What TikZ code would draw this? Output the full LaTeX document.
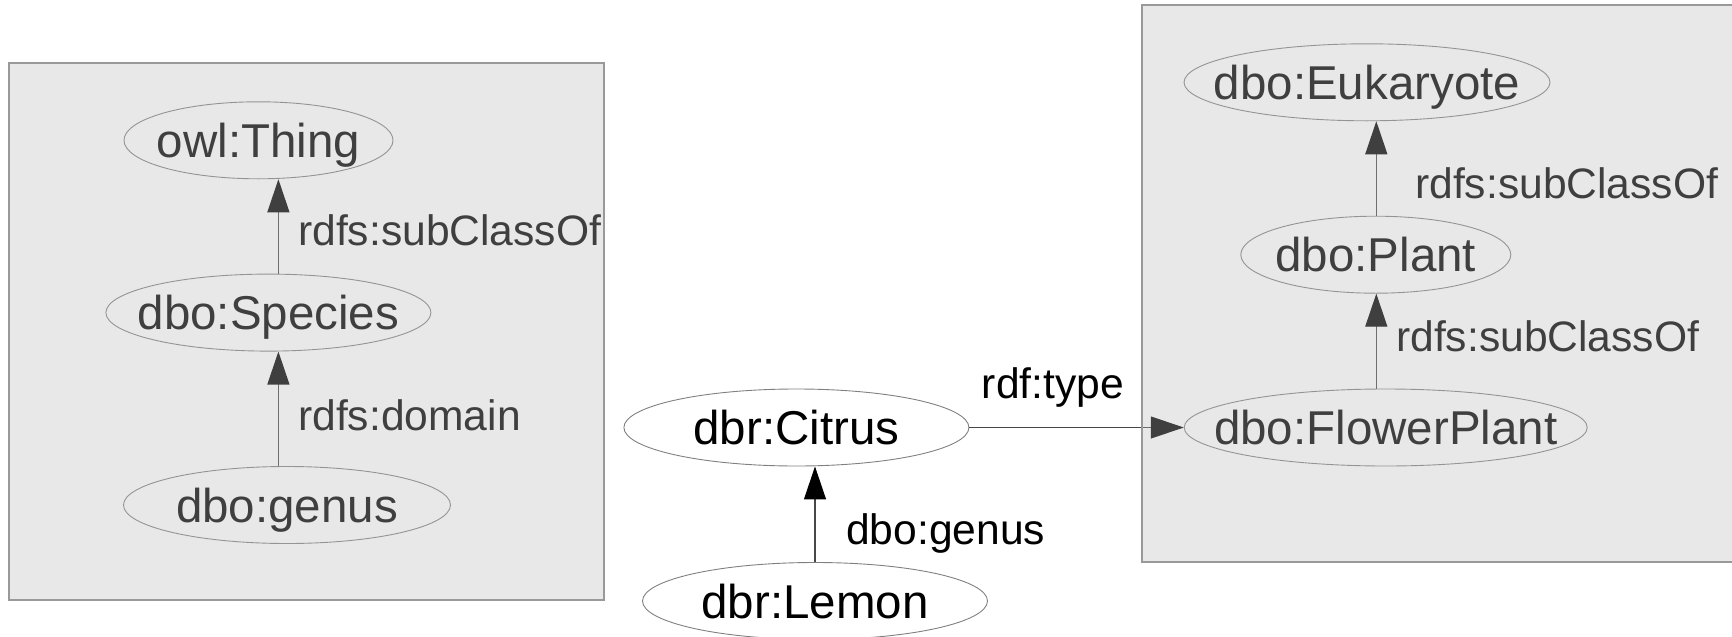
\documentclass[tikz,border=0pt]{standalone}
\usepackage{fontspec}
\setmainfont{Liberation Sans}
\usetikzlibrary{arrows.meta,shapes.geometric}

\definecolor{outline}{gray}{0.5}
\definecolor{edgec}{gray}{0.28}
\definecolor{boxfill}{gray}{0.735}
\definecolor{boxline}{gray}{0.6}

\newcommand{\termfont}{\fontsize{47.5}{50}\selectfont}
\newcommand{\propfont}{\fontsize{42.6}{45}\selectfont}

\begin{document}
\begin{tikzpicture}[x=1pt,y=-1pt,
  term/.style={ellipse, draw=outline, line width=0.9pt, inner sep=0pt,
    minimum height=77pt,
    label={[font=\termfont, text height=34pt, text depth=0pt, inner sep=0pt]center:{#1}}},
  prop/.style={font=\propfont, anchor=base west, inner sep=0pt},
  arr/.style={draw=edgec, line width=1.2pt,
    -{Triangle[length=33pt,width=22pt,color=black]}},
  group/.style={draw=boxline, line width=1.4pt, fill=boxfill, fill opacity=0.34}
]
\useasboundingbox (0,0) rectangle (1732,637);

% ontology classes around dbo:Species
\node[term=owl:Thing,   minimum width=269pt] (thing)   at (258.5,140.3) {};
\node[term=dbo:Species, minimum width=325pt] (species) at (268.4,312.6) {};
\node[term=dbo:genus,   minimum width=327pt] (genus)   at (287.0,505.0) {};

% resources
\node[term=dbr:Citrus, minimum width=345pt] (citrus) at (796.4,427.5) {};
\node[term=dbr:Lemon,  minimum width=345pt] (lemon)  at (815.0,601.0) {};

% plant hierarchy
\node[term=dbo:Eukaryote,   minimum width=366pt] (euk)    at (1367.0,82.3) {};
\node[term=dbo:Plant,       minimum width=270pt] (plant)  at (1375.8,254.7) {};
\node[term=dbo:FlowerPlant, minimum width=403pt] (flower) at (1385.7,427.5) {};

% connectors
\draw[arr] ([xshift=10pt]species.north) -- ([xshift=19.9pt]thing.south);
\draw[arr] ([xshift=-8.6pt]genus.north) -- ([xshift=10pt]species.south);
\draw[arr] (lemon.north) -- ([xshift=18.6pt]citrus.south);
\draw[arr] (citrus.east) -- (flower.west);
\draw[arr] ([xshift=-9.4pt]flower.north) -- ([xshift=0.5pt]plant.south);
\draw[arr] ([xshift=0.5pt]plant.north) -- ([xshift=9.3pt]euk.south);

% property labels
\node[prop] (l1) at (298,245.7)  {rdfs:subClassOf};
\node[prop] (l2) at (298,430)    {rdfs:domain};
\node[prop] (l3) at (981.7,398.3) {rdf:type};
\node[prop] (l4) at (846,544)    {dbo:genus};
\node[prop] (l5) at (1415,198.3) {rdfs:subClassOf};
\node[prop] (l6) at (1396,351.7) {rdfs:subClassOf};

% grey group panels laid over the graph
\path[group] (9,63) rectangle (604,600);
\path[group] (1142,5) rectangle (1750,562);
\end{tikzpicture}
\end{document}
